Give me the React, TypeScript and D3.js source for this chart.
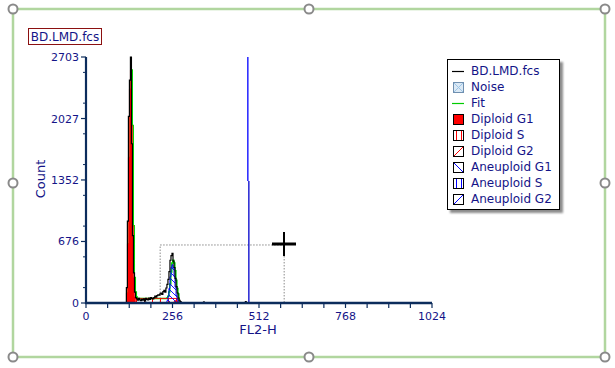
import React from "react";
import * as d3 from "d3";

const W = 615;
const H = 368;

const channels = [115,118,121,124,127,130,133,136,139,142,145,148,151,154,157,160,163,166,169,172,175,178,181,184,187,190,193,196,199,202,205,208,211,214,217,220,223,226,229,232,235,238,241,244,247,250,253,256,259,262,265,268,271,274,277,280,283,286];
const dataCounts = [0,0,170,900,2050,2450,2703,1750,740,330,120,60,45,30,50,35,25,40,30,45,20,50,40,35,55,40,60,50,45,60,75,65,80,90,85,100,110,95,125,140,120,165,205,260,345,470,520,546,460,390,270,180,110,55,30,15,5,0];
const diploidG1 = [0,0,110,650,1600,2350,2560,1950,850,280,70,15,0,0,0,0,0,0,0,0,0,0,0,0,0,0,0,0,0,0,0,0,0,0,0,0,0,0,0,0,0,0,0,0,0,0,0,0,0,0,0,0,0,0,0,0,0,0];
const diploidS = [0,0,0,0,0,0,0,0,0,0,50,50,50,50,50,50,50,50,50,50,50,50,50,50,50,50,50,50,50,50,50,50,50,50,50,50,50,50,50,50,50,50,50,50,50,50,50,50,50,50,50,50,50,0,0,0,0,0];
const diploidG2 = [0,0,0,0,0,0,0,0,0,0,0,0,0,0,0,0,0,0,0,0,0,0,0,0,0,0,0,0,0,0,0,0,0,0,0,0,0,0,0,0,0,0,0,0,0,0,0,0,5,15,25,25,15,5,0,0,0,0];
const aneuploidG1 = [0,0,0,0,0,0,0,0,0,0,0,0,0,0,0,0,0,0,0,0,0,0,0,0,0,0,0,0,0,0,0,0,0,0,0,0,0,0,0,0,0,5,25,70,160,290,390,420,385,290,175,85,35,10,0,0,0,0];
const sparseEvents: [number, number][] = [[346, 18], [470, 22]];

const xTicks = [0, 256, 512, 768, 1024];
const xMinor = [64, 128, 192, 320, 384, 448, 576, 640, 704, 832, 896, 960];
const yTicks = [0, 676, 1352, 2027, 2703];
const yMinor = [169, 507, 845, 1183, 1521, 1859, 2196, 2534];

const markerTop = 479;
const markerBottom = 482;
const markerSplit = 1340;
const gate = { x0: 218, x1: 585, y: 643 };

const legendItems = ["BD.LMD.fcs", "Noise", "Fit", "Diploid G1", "Diploid S", "Diploid G2", "Aneuploid G1", "Aneuploid S", "Aneuploid G2"];

const NAVY = "#141488";
const AXIS = "#0c2c5c";
const FONT = "DejaVu Sans, Verdana, sans-serif";

export default function App() {
  const x = d3.scaleLinear().domain([0, 1024]).range([86, 432]);
  const y = d3.scaleLinear().domain([0, 2703]).range([303, 57]);

  const fit = channels.map((_, i) => diploidG1[i] + diploidS[i] + diploidG2[i] + aneuploidG1[i]);
  const pts = (vals: number[]) => channels.map((c, i) => [c, vals[i]] as [number, number]);

  const area = d3
    .area<[number, number]>()
    .x((d) => x(d[0]))
    .y0(y(0))
    .y1((d) => y(d[1]))
    .curve(d3.curveStep);
  const line = d3
    .line<[number, number]>()
    .x((d) => x(d[0]))
    .y((d) => y(d[1]))
    .curve(d3.curveStep);

  const legX = 447, legY = 59, legW = 112, legH = 150;

  const box = (sx: number, sy: number, extra: React.ReactNode, fill = "#fff") => (
    <g>
      <rect x={sx + 0.5} y={sy + 0.5} width={10} height={10} fill={fill} stroke="#000" />
      {extra}
    </g>
  );

  const swatch = (i: number) => {
    const sx = 453, sy = legY + 7 + i * 16;
    const cy = sy + 5;
    switch (i) {
      case 0:
        return <line x1={sx - 1} x2={sx + 11} y1={cy + 0.5} y2={cy + 0.5} stroke="#000" strokeWidth={1.2} />;
      case 1:
        return (
          <g>
            <rect x={sx + 0.5} y={sy + 0.5} width={10} height={10} fill="#dbe9f5" stroke="#6f8faf" />
            <path d={`M${sx + 1},${sy + 1}L${sx + 10},${sy + 10}M${sx + 10},${sy + 1}L${sx + 1},${sy + 10}`} stroke="#9cc4e6" />
          </g>
        );
      case 2:
        return <line x1={sx - 1} x2={sx + 11} y1={cy + 0.5} y2={cy + 0.5} stroke="#00cc00" strokeWidth={1.2} />;
      case 3:
        return box(sx, sy, null, "#ff0000");
      case 4:
        return box(sx, sy, <path d={`M${sx + 3.5},${sy + 1}V${sy + 10}M${sx + 8.5},${sy + 1}V${sy + 10}`} stroke="#ff0000" />);
      case 5:
        return box(sx, sy, <path d={`M${sx + 1},${sy + 10}L${sx + 10},${sy + 1}`} stroke="#ff0000" />);
      case 6:
        return box(sx, sy, <path d={`M${sx + 1},${sy + 1}L${sx + 10},${sy + 10}`} stroke="#0000ff" />);
      case 7:
        return box(sx, sy, <path d={`M${sx + 3.5},${sy + 1}V${sy + 10}M${sx + 8.5},${sy + 1}V${sy + 10}`} stroke="#0000ff" />);
      default:
        return box(sx, sy, <path d={`M${sx + 1},${sy + 10}L${sx + 10},${sy + 1}`} stroke="#0000ff" />);
    }
  };

  const corners = [
    [13, 9], [309, 9], [605, 9],
    [13, 183], [605, 183],
    [13, 357], [309, 357], [605, 357],
  ];

  return (
    <svg width={W} height={H} style={{ position: "absolute", left: 0, top: 0, background: "#fff" }} fontFamily={FONT}>
      <defs>
        <pattern id="vRed" patternUnits="userSpaceOnUse" width={8} height={8}>
          <line x1={0.5} x2={0.5} y1={0} y2={8} stroke="#ff0000" />
        </pattern>
        <pattern id="bBlue" patternUnits="userSpaceOnUse" width={6} height={6}>
          <path d="M0,0L6,6M-1,5L1,7M5,-1L7,1" stroke="#0000ff" strokeWidth={0.9} />
        </pattern>
        <pattern id="fRed" patternUnits="userSpaceOnUse" width={6} height={6}>
          <path d="M0,6L6,0M-1,1L1,-1M5,7L7,5" stroke="#ff0000" strokeWidth={0.9} />
        </pattern>
        <filter id="shadow" x="-10%" y="-10%" width="130%" height="130%">
          <feDropShadow dx={3} dy={3} stdDeviation={1.2} floodColor="#000" floodOpacity={0.45} />
        </filter>
      </defs>

      {/* frame */}
      <rect x={13} y={9} width={592} height={348} fill="none" stroke="#b1d69f" strokeWidth={2.5} />
      {corners.map(([cx, cy], i) => (
        <circle key={i} cx={cx} cy={cy} r={4.5} fill="#fff" stroke="#8a8a8a" strokeWidth={2} />
      ))}

      {/* title box */}
      <rect x={28.5} y={28.5} width={73} height={16} fill="#fff" stroke="#8b1010" strokeWidth={1} />
      <text x={65} y={41} textAnchor="middle" fontSize={12} fill={NAVY}>BD.LMD.fcs</text>

      {/* gate */}
      <rect x={x(gate.x0) + 0.5} y={y(gate.y) + 0.5} width={x(gate.x1) - x(gate.x0)} height={y(0) - y(gate.y) - 1}
        fill="none" stroke="#8a8a8a" strokeWidth={1} strokeDasharray="1.5,1.5" />

      {/* marker */}
      <line x1={x(markerTop)} x2={x(markerTop)} y1={y(2703)} y2={y(markerSplit)} stroke="#0000ff" strokeWidth={1.3} />
      <line x1={x(markerBottom)} x2={x(markerBottom)} y1={y(markerSplit)} y2={y(0)} stroke="#0000cc" strokeWidth={1.3} />

      {/* fit behind components */}
      <path d={line(pts(fit)) || ""} fill="none" stroke="#00dd00" strokeWidth={1.5} transform="translate(0.8,0)" />
      {/* components */}
      <path d={area(pts(diploidS)) || ""} fill="url(#vRed)" stroke="#ff0000" strokeWidth={1} />
      <path d={area(pts(diploidG2)) || ""} fill="url(#fRed)" stroke="#ff0000" strokeWidth={1} />
      <path d={area(pts(aneuploidG1)) || ""} fill="url(#bBlue)" stroke="#0000ff" strokeWidth={1} />
      <path d={area(pts(diploidG1)) || ""} fill="#ff0000" stroke="#ff0000" strokeWidth={0.5} />
      <path d={line(pts(dataCounts)) || ""} fill="none" stroke="#000" strokeWidth={1.2} strokeDasharray="none" />
      {sparseEvents.map(([c, v], i) => (
        <rect key={i} x={x(c)} y={y(v)} width={2} height={y(0) - y(v)} fill="#000" />
      ))}

      {/* axes */}
      <line x1={86} x2={86} y1={y(2703)} y2={y(0) + 1} stroke={AXIS} strokeWidth={2.2} />
      <line x1={85} x2={x(1024)} y1={y(0)} y2={y(0)} stroke={AXIS} strokeWidth={2.4} />
      {yTicks.map((t) => (
        <g key={t}>
          <line x1={81} x2={86} y1={y(t)} y2={y(t)} stroke={AXIS} strokeWidth={1.2} />
          <text x={79} y={y(t) + 4} textAnchor="end" fontSize={11} fill={NAVY}>{t}</text>
        </g>
      ))}
      {yMinor.map((t) => (
        <line key={t} x1={83} x2={86} y1={y(t)} y2={y(t)} stroke={AXIS} strokeWidth={1} />
      ))}
      {xTicks.concat(xMinor).map((t) => (
        <line key={t} x1={x(t)} x2={x(t)} y1={y(0)} y2={y(0) + 5} stroke={AXIS} strokeWidth={1.2} />
      ))}
      {xTicks.map((t) => (
        <text key={t} x={x(t)} y={320} textAnchor="middle" fontSize={11} fill={NAVY}>{t}</text>
      ))}
      <text x={258} y={334} textAnchor="middle" fontSize={13} fill={NAVY}>FL2-H</text>
      <text transform="translate(45,179) rotate(-90)" textAnchor="middle" fontSize={13} fill={NAVY}>Count</text>

      {/* cursor */}
      <line x1={272} x2={296} y1={244} y2={244} stroke="#000" strokeWidth={3} />
      <line x1={284} x2={284} y1={232} y2={256} stroke="#000" strokeWidth={2} />

      {/* legend */}
      <rect x={legX + 0.5} y={legY + 0.5} width={legW} height={legH} fill="#fff" stroke="#000" filter="url(#shadow)" />
      {legendItems.map((name, i) => (
        <g key={name}>
          {swatch(i)}
          <text x={471} y={legY + 16 + i * 16} fontSize={12} fill={NAVY}>{name}</text>
        </g>
      ))}
    </svg>
  );
}
